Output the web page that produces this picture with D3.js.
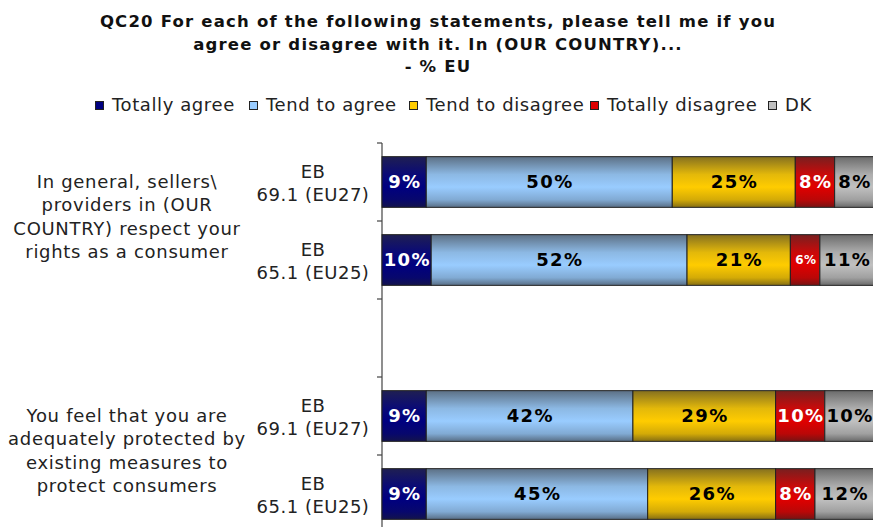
<!DOCTYPE html>
<html>
<head>
<meta charset="utf-8">
<script src="https://cdn.jsdelivr.net/npm/d3@7"></script>
<style>
  html, body { margin: 0; padding: 0; background: #fff; }
  svg { display: block; font-family: "DejaVu Sans", Verdana, sans-serif; }
</style>
</head>
<body>
<svg id="chart" width="873" height="527"></svg>
<script>
// Survey answers, % EU
const seriesNames = ["Totally agree", "Tend to agree", "Tend to disagree", "Totally disagree", "DK"];
const seriesColors = ["#000080", "#99CCFF", "#FFCC00", "#E00000", "#C0C0C0"];
const labelColors = ["#fff", "#000", "#000", "#fff", "#000"];

const rowKeys = ["q1_eb69", "q1_eb65", "spacer", "q2_eb69", "q2_eb65"];
const rowWaves = [["EB", "69.1 (EU27)"], ["EB", "65.1 (EU25)"], null, ["EB", "69.1 (EU27)"], ["EB", "65.1 (EU25)"]];

const totallyAgree   = [9, 10, null, 9, 9];
const tendToAgree    = [50, 52, null, 42, 45];
const tendToDisagree = [25, 21, null, 29, 26];
const totallyDisagree= [8, 6, null, 10, 8];
const dontKnow       = [8, 11, null, 10, 12];

const statements = [
  { rows: ["q1_eb69", "q1_eb65"], lines: ["In general, sellers\\", "providers in (OUR", "COUNTRY) respect your", "rights as a consumer"] },
  { rows: ["q2_eb69", "q2_eb65"], lines: ["You feel that you are", "adequately protected by", "existing measures to", "protect consumers"] }
];

const titleLines = [
  "QC20 For each of the following statements, please tell me if you",
  "agree or disagree with it. In (OUR COUNTRY)...",
  "- % EU"
];

const seriesValues = [totallyAgree, tendToAgree, tendToDisagree, totallyDisagree, dontKnow];

const svg = d3.select("#chart");
const defs = svg.append("defs");

// Cylinder-style vertical shading for each series colour
seriesColors.forEach((c, i) => {
  const base = d3.color(c);
  const g = defs.append("linearGradient")
    .attr("id", "grad" + i).attr("x1", 0).attr("y1", 0).attr("x2", 0).attr("y2", 1);
  g.append("stop").attr("offset", "0%").attr("stop-color", d3.interpolateRgb(base, "#333")(0.6));
  g.append("stop").attr("offset", "35%").attr("stop-color", d3.interpolateRgb(base, "#444")(0.15));
  g.append("stop").attr("offset", "60%").attr("stop-color", base.formatHex());
  g.append("stop").attr("offset", "85%").attr("stop-color", d3.interpolateRgb(base, "#222")(0.2));
  g.append("stop").attr("offset", "100%").attr("stop-color", d3.interpolateRgb(base, "#222")(0.55));
});

// Title
svg.append("g").selectAll("text").data(titleLines).join("text")
  .attr("x", 438).attr("y", (d, i) => 27 + i * 22.5)
  .attr("text-anchor", "middle")
  .attr("font-weight", "bold").attr("font-size", 16.5).attr("letter-spacing", 1.2)
  .attr("fill", "#111")
  .text(d => d);

// Legend
const legendX = [95, 249, 409, 590, 768];
const legend = svg.append("g").selectAll("g").data(seriesNames).join("g")
  .attr("transform", (d, i) => `translate(${legendX[i]},110)`);
legend.append("rect").attr("x", 0.5).attr("y", -8.5).attr("width", 8).attr("height", 8)
  .attr("fill", (d, i) => seriesColors[i]).attr("stroke", "#222").attr("stroke-width", 1);
legend.append("text").attr("x", 17).attr("y", 1)
  .attr("font-size", 18).attr("letter-spacing", 0.6).attr("fill", "#222").text(d => d);

// Scales
const x = d3.scaleLinear().domain([0, 100]).range([382, 874]);
const y = d3.scaleBand().domain(rowKeys).range([143, 533]).paddingInner(0.35).paddingOuter(0.175);

// Stack
const table = rowKeys.map((k, r) => {
  const o = { key: k };
  seriesNames.forEach((s, i) => { o[s] = seriesValues[i][r]; });
  return o;
}).filter(d => d[seriesNames[0]] != null);
const stacked = d3.stack().keys(seriesNames)(table);

// Axis line with ticks at band boundaries
const axisG = svg.append("g");
axisG.append("line").attr("x1", x(0)).attr("x2", x(0))
  .attr("y1", y.range()[0]).attr("y2", y.range()[1])
  .attr("stroke", "#444").attr("stroke-width", 1.2);
d3.range(rowKeys.length + 1).forEach(i => {
  const ty = y.range()[0] + i * y.step();
  axisG.append("line").attr("x1", x(0) - 5).attr("x2", x(0))
    .attr("y1", ty).attr("y2", ty).attr("stroke", "#444").attr("stroke-width", 1.2);
});

// Bars
const layers = svg.append("g").selectAll("g").data(stacked).join("g")
  .attr("fill", (d, i) => `url(#grad${i})`);
layers.selectAll("rect").data(d => d).join("rect")
  .attr("x", d => x(d[0])).attr("y", d => y(d.data.key))
  .attr("width", d => x(d[1]) - x(d[0])).attr("height", y.bandwidth())
  .attr("stroke", "#222").attr("stroke-width", 1);

// Value labels
stacked.forEach((layer, i) => {
  svg.append("g").selectAll("text").data(layer).join("text")
    .attr("x", d => (x(d[0]) + x(d[1])) / 2 + 0.7)
    .attr("y", d => y(d.data.key) + y.bandwidth() / 2)
    .attr("dy", "0.36em")
    .attr("text-anchor", "middle")
    .attr("font-weight", "bold")
    .attr("font-size", d => (d[1] - d[0]) < 7 ? 12 : 18)
    .attr("letter-spacing", d => (d[1] - d[0]) < 7 ? 0.3 : 1.4)
    .attr("fill", labelColors[i])
    .text(d => (d[1] - d[0]) + "%");
});

// Wave labels
rowKeys.forEach((k, r) => {
  if (!rowWaves[r]) return;
  const cy = y(k) + y.bandwidth() / 2;
  svg.append("g").selectAll("text").data(rowWaves[r]).join("text")
    .attr("x", 313).attr("y", (d, i) => cy - 4 + i * 23)
    .attr("text-anchor", "middle").attr("font-size", 18).attr("letter-spacing", 0.5)
    .attr("fill", "#222")
    .text(d => d);
});

// Statement labels
statements.forEach(st => {
  const top = y(st.rows[0]) + y.bandwidth() / 2;
  const bot = y(st.rows[1]) + y.bandwidth() / 2;
  const cy = (top + bot) / 2;
  svg.append("g").selectAll("text").data(st.lines).join("text")
    .attr("x", 127).attr("y", (d, i) => cy + (i - (st.lines.length - 1) / 2) * 23.3 + 2)
    .attr("text-anchor", "middle").attr("font-size", 18).attr("letter-spacing", 0.7)
    .attr("fill", "#222")
    .text(d => d);
});
</script>
</body>
</html>
